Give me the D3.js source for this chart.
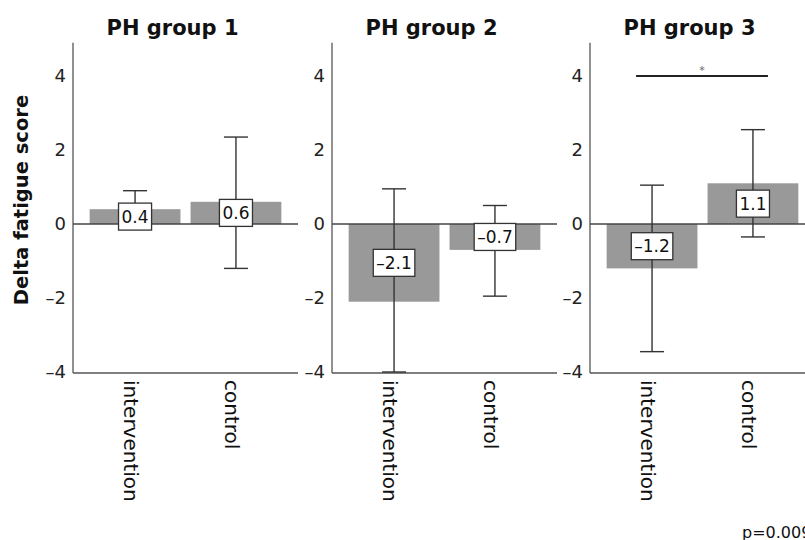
<!DOCTYPE html>
<html lang="en">
<head>
    <meta charset="UTF-8">
    <title>Delta fatigue score by PH group</title>
    <script src="https://d3js.org/d3.v7.min.js"></script>
    <style>
        body, html { margin: 0; padding: 0; background: #fff; font-family: "DejaVu Sans", sans-serif; }
        .tick-label { font-size: 18px; fill: #222; }
        .cat-label { font-size: 20px; fill: #111; }
        .title { font-size: 21px; font-weight: bold; fill: #111; }
        .value-label { font-size: 17px; fill: #111; }
    </style>
</head>
<body>
    <div id="chart"></div>

    <script>
    // data
    const groups = ["PH group 1", "PH group 2", "PH group 3"];
    const conditions = ["intervention", "control"];
    const means  = [[0.4, 0.6], [-2.1, -0.7], [-1.2, 1.1]];
    const ciLow  = [[-0.1, -1.2], [-4.0, -1.95], [-3.45, -0.35]];
    const ciHigh = [[0.9, 2.35], [0.95, 0.5], [1.05, 2.55]];
    const yTicks = [-4, -2, 0, 2, 4];
    const sigGroup = 2;      // PH group 3
    const sigLevel = 4;
    const sigMark = "*";
    const pNote = "p=0.009";

    const width = 805, height = 540;
    const panelX = [73, 332, 590];
    const panelW = 225;

    const svg = d3.select("#chart").append("svg")
        .attr("width", width)
        .attr("height", height);

    const y = d3.scaleLinear().domain([-4, 4.9]).range([372, 372 - 8.9 * 37]);
    const fmt = v => d3.format(".1f")(v).replace("\u2212", "\u2013");

    groups.forEach((name, gi) => {
        const g = svg.append("g").attr("transform", `translate(${panelX[gi]},0)`);

        const x = d3.scaleBand()
            .domain(conditions)
            .range([0, panelW])
            .paddingInner(0.1)
            .paddingOuter(0.165);

        // y axis line and labels (no tick marks)
        g.append("line")
            .attr("x1", 0).attr("x2", 0)
            .attr("y1", y.range()[1]).attr("y2", y(-4) + 1)
            .attr("stroke", "#555").attr("stroke-width", 1.3);
        g.selectAll(".tick-label")
            .data(yTicks)
            .enter().append("text")
            .attr("class", "tick-label")
            .attr("x", -7)
            .attr("y", d => y(d))
            .attr("dy", "0.36em")
            .attr("text-anchor", "end")
            .text(d => d3.format("d")(d).replace("\u2212", "\u2013"));

        // bottom axis line
        g.append("line")
            .attr("x1", 0).attr("x2", panelW)
            .attr("y1", y(-4) + 1).attr("y2", y(-4) + 1)
            .attr("stroke", "#555").attr("stroke-width", 1.3);

        const rows = conditions.map((c, i) => ({
            cond: c, mean: means[gi][i], lo: ciLow[gi][i], hi: ciHigh[gi][i]
        }));

        // bars
        g.selectAll(".bar")
            .data(rows)
            .enter().append("rect")
            .attr("class", "bar")
            .attr("x", d => x(d.cond))
            .attr("width", x.bandwidth())
            .attr("y", d => y(Math.max(0, d.mean)))
            .attr("height", d => Math.abs(y(d.mean) - y(0)))
            .attr("fill", "#999999");

        // zero line
        g.append("line")
            .attr("x1", 0).attr("x2", panelW)
            .attr("y1", y(0)).attr("y2", y(0))
            .attr("stroke", "#444").attr("stroke-width", 1.3);

        // error bars
        const cx = d => x(d.cond) + x.bandwidth() / 2;
        const eb = g.selectAll(".err")
            .data(rows)
            .enter().append("g")
            .attr("class", "err")
            .attr("stroke", "#333")
            .attr("stroke-width", 1.4);
        eb.append("line")
            .attr("x1", cx).attr("x2", cx)
            .attr("y1", d => y(d.lo)).attr("y2", d => y(d.hi));
        eb.append("line")
            .attr("x1", d => cx(d) - 12).attr("x2", d => cx(d) + 12)
            .attr("y1", d => y(d.hi)).attr("y2", d => y(d.hi));
        eb.append("line")
            .attr("x1", d => cx(d) - 12).attr("x2", d => cx(d) + 12)
            .attr("y1", d => y(d.lo)).attr("y2", d => y(d.lo));

        // value labels in boxes at bar middle
        rows.forEach(d => {
            const lg = g.append("g")
                .attr("transform", `translate(${cx(d)},${y(d.mean / 2)})`);
            const box = lg.append("rect");
            const t = lg.append("text")
                .attr("class", "value-label")
                .attr("text-anchor", "middle")
                .attr("dy", "0.36em")
                .text(fmt(d.mean));
            const bb = t.node().getBBox();
            box.attr("x", bb.x - 3).attr("y", -13.5)
                .attr("width", bb.width + 6).attr("height", 27)
                .attr("fill", "#fff").attr("stroke", "#333").attr("stroke-width", 1.3);
        });

        // category labels, rotated
        g.selectAll(".cat-label")
            .data(conditions)
            .enter().append("text")
            .attr("class", "cat-label")
            .attr("transform", d => `translate(${x(d) + x.bandwidth() / 2 - 4},${y(-4) + 8}) rotate(90)`)
            .attr("dy", "0.36em")
            .text(d => d);

        // panel title
        g.append("text")
            .attr("class", "title")
            .attr("x", panelW / 2 - 13)
            .attr("y", 35)
            .attr("text-anchor", "middle")
            .text(name);

        // significance bar
        if (gi === sigGroup) {
            const x1 = x(conditions[0]) + x.bandwidth() / 2 - 16;
            const x2 = x(conditions[1]) + x.bandwidth() / 2 + 15;
            g.append("line")
                .attr("x1", x1).attr("x2", x2)
                .attr("y1", y(sigLevel)).attr("y2", y(sigLevel))
                .attr("stroke", "#222").attr("stroke-width", 2);
            g.append("text")
                .attr("x", (x1 + x2) / 2)
                .attr("y", y(sigLevel) - 2)
                .attr("text-anchor", "middle")
                .attr("font-size", 11)
                .attr("fill", "#666")
                .text(sigMark);
        }
    });

    // y axis title
    svg.append("text")
        .attr("transform", "translate(28,200) rotate(-90)")
        .attr("text-anchor", "middle")
        .attr("font-size", 19.5)
        .attr("font-weight", "bold")
        .attr("fill", "#111")
        .text("Delta fatigue score");

    // p-value note
    svg.append("text")
        .attr("x", 742)
        .attr("y", 538)
        .attr("font-size", 16)
        .attr("fill", "#111")
        .text(pNote);
    </script>
</body>
</html>
